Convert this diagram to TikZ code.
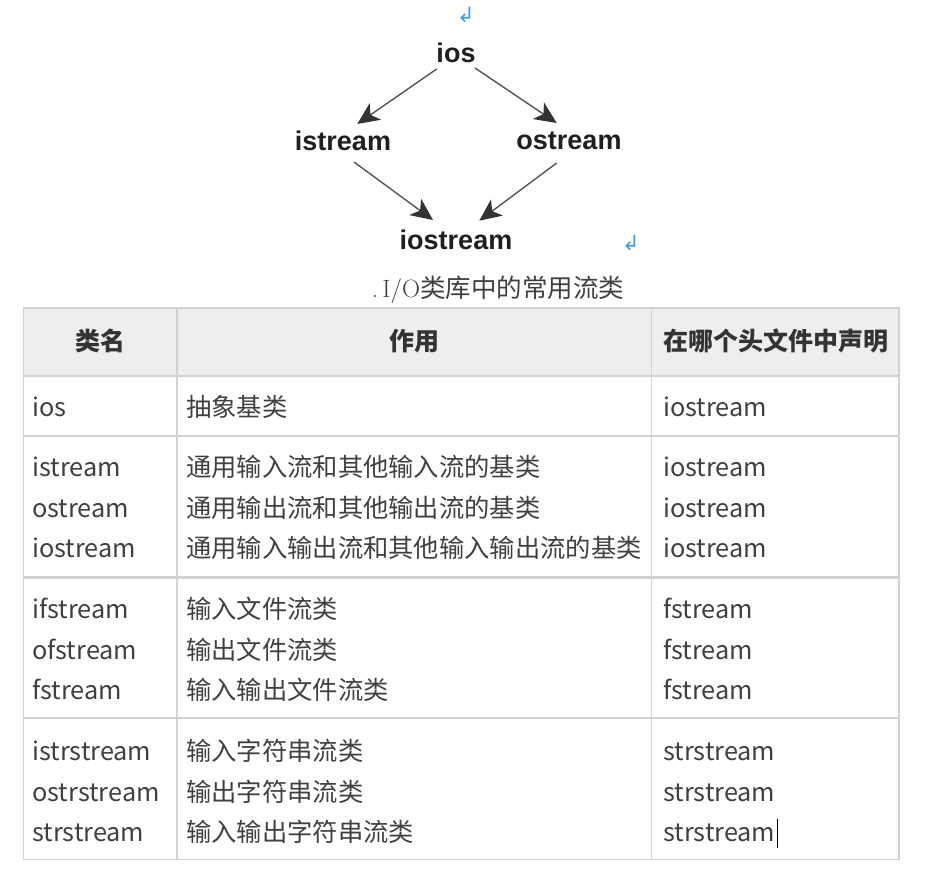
\documentclass[tikz,border=0pt]{standalone}
\usepackage{fontspec}
\usetikzlibrary{arrows.meta,calc}
\newfontfamily\cjk{Noto Sans CJK SC}
\newfontfamily\arialf{Liberation Sans}
\newfontfamily\dvs{DejaVu Sans}
\definecolor{tc}{HTML}{404040}
\definecolor{gridc}{HTML}{D2D2D2}
\definecolor{headc}{HTML}{EEEEEE}
\definecolor{bluec}{HTML}{3D9BE9}
\definecolor{linec}{HTML}{555555}
\definecolor{tipc}{HTML}{333333}
\begin{document}
\begin{tikzpicture}[x=1pt,y=-1pt,
  cls/.style={font=\arialf\bfseries\fontsize{27}{27}\selectfont, text=black!88, inner sep=0},
  arr/.style={draw=linec, line width=1.4pt, -{Stealth[length=22pt,width=20pt,inset=6pt,fill=tipc,color=tipc]}},
  cell/.style={anchor=base west, inner sep=0, font=\cjk\fontsize{25.3}{25.3}\selectfont, text=tc},
  head/.style={anchor=base, inner sep=0, font=\cjk\bfseries\fontsize{25}{25}\selectfont, text=black!80},
  ret/.style={font=\dvs\fontsize{21}{21}\selectfont, text=bluec, inner sep=0},
  grid/.style={draw=gridc, line width=1.6pt}]
\useasboundingbox (0,0) rectangle (930,872);
% --- class hierarchy
\node[cls] (ios) at (456,53) {ios};
\node[cls] (istream) at (343,141) {istream};
\node[cls] (ostream) at (569,141) {ostream};
\node[cls] (iostream) at (456,240) {iostream};
\draw[arr] ($(ios)+(-19.3,16)$) -- ($(istream)+(14.3,-17)$);
\draw[arr] ($(ios)+(19,15)$) -- ($(ostream)+(-12.3,-18)$);
\draw[arr] ($(istream)+(11,21)$) -- ($(iostream)+(-23,-20)$);
\draw[arr] ($(ostream)+(-12.3,22)$) -- ($(iostream)+(23.3,-19.3)$);
\node[ret] (r1) at (466,15) {↲};
\node[ret] (r2) at (631,243) {↲};
% --- caption
\node[inner sep=0, text=tc, anchor=base] (cap) at (498,298)
  {\fontsize{25}{25}\selectfont .\,I/O{\cjk\fontsize{25.5}{25.5}\selectfont 类库中的常用流类}};
% --- table
\fill[headc] (23.5,308) rectangle (899,376);
\draw[grid] (23.5,308) rectangle (899,859.5);
\draw[grid] (23.5,376) -- (899,376);
\draw[grid] (23.5,436) -- (899,436);
\draw[draw=gridc, line width=3pt] (23.5,577) -- (899,577);
\draw[grid] (23.5,718) -- (899,718);
\draw[grid] (177,308) -- (177,859.5);
\draw[grid] (651.5,308) -- (651.5,859.5);
% header
\node[head] (h1) at (100,350) {类名};
\node[head] (h2) at (414,350) {作用};
\node[head,anchor=base west] (h3) at (663,350) {在哪个头文件中声明};
% rows
\node[cell] (a1) at (32,416) {ios};
\node[cell] (b1) at (186,416) {抽象基类};
\node[cell] (c1) at (663,416) {iostream};
\node[cell] (a2) at (32,476) {istream};
\node[cell] (b2) at (186,476) {通用输入流和其他输入流的基类};
\node[cell] (c2) at (663,476) {iostream};
\node[cell] (a3) at (32,517) {ostream};
\node[cell] (b3) at (186,517) {通用输出流和其他输出流的基类};
\node[cell] (c3) at (663,517) {iostream};
\node[cell] (a4) at (32,557) {iostream};
\node[cell] (b4) at (186,557) {通用输入输出流和其他输入输出流的基类};
\node[cell] (c4) at (663,557) {iostream};
\node[cell] (a5) at (32,618) {ifstream};
\node[cell] (b5) at (186,618) {输入文件流类};
\node[cell] (c5) at (663,618) {fstream};
\node[cell] (a6) at (32,659) {ofstream};
\node[cell] (b6) at (186,659) {输出文件流类};
\node[cell] (c6) at (663,659) {fstream};
\node[cell] (a7) at (32,699) {fstream};
\node[cell] (b7) at (186,699) {输入输出文件流类};
\node[cell] (c7) at (663,699) {fstream};
\node[cell] (a8) at (32,760) {istrstream};
\node[cell] (b8) at (186,760) {输入字符串流类};
\node[cell] (c8) at (663,760) {strstream};
\node[cell] (a9) at (32,801) {ostrstream};
\node[cell] (b9) at (186,801) {输出字符串流类};
\node[cell] (c9) at (663,801) {strstream};
\node[cell] (a10) at (32,841) {strstream};
\node[cell] (b10) at (186,841) {输入输出字符串流类};
\node[cell] (c10) at (663,841) {strstream};
\draw[black, line width=1.3pt] ($(c10.base east)+(2,7)$) -- ($(c10.base east)+(2,-22)$);
\end{tikzpicture}
\end{document}
